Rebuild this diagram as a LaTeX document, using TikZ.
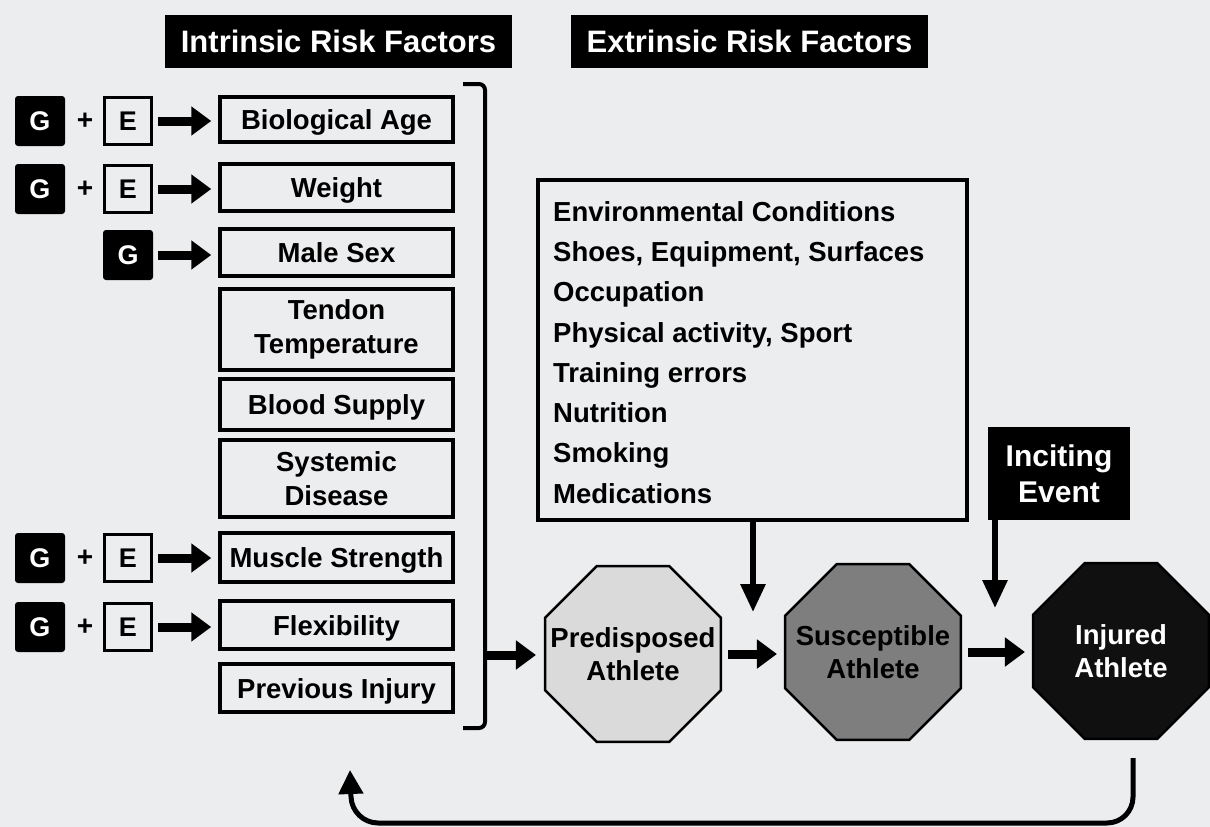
\documentclass[tikz,border=0pt]{standalone}
\usepackage{fontspec}
\setmainfont{Liberation Sans}
\usetikzlibrary{shapes.geometric,arrows.meta,calc}
\definecolor{paper}{RGB}{236,237,239}
\definecolor{predfill}{RGB}{218,218,218}
\definecolor{suscfill}{RGB}{126,126,126}
\definecolor{injfill}{RGB}{16,16,16}
\newcommand{\fsz}[2]{\fontsize{#1}{#2}\selectfont}
\begin{document}
\begin{tikzpicture}[x=1pt,y=-1pt,
  header/.style={fill=black, text=white, inner sep=0pt, minimum height=53pt,
    text height=22pt, text depth=0pt, font=\bfseries\fsz{31}{33}},
  factor/.style={draw, line width=3.5pt, fill=paper, minimum width=233pt,
    inner sep=0pt, align=center, font=\bfseries\fsz{27.5}{34}},
  oneline/.style={text height=20pt, text depth=0pt},
  gbox/.style={fill=black, rounded corners=3pt, minimum size=50pt, inner sep=0pt,
    text=white, text height=19pt, text depth=0pt, font=\bfseries\fsz{27}{28}},
  ebox/.style={draw, line width=3pt, minimum size=47pt, inner sep=0pt,
    text height=19pt, text depth=0pt, font=\bfseries\fsz{27}{28}},
  plus/.style={font=\bfseries\fsz{28}{30}, inner sep=0pt},
  fat/.style={line width=9pt, -{Triangle[length=20pt,width=28pt]}},
  drop/.style={line width=6pt, -{Triangle[length=28pt,width=24pt]}},
  octa/.style={regular polygon, regular polygon sides=8, minimum size=190pt,
    draw, line width=2.5pt, inner sep=0pt},
  octatext/.style={align=center, inner sep=0pt, font=\bfseries\fsz{27.5}{33}},
  darkbox/.style={fill=black, text=white, inner sep=0pt, align=center,
    font=\bfseries\fsz{30}{36}}
]
% background sheet and page frame
\fill[paper] (0,0) rectangle (1210,827);
\useasboundingbox (0,0) rectangle (1210,827);

% column headings
\node[header, minimum width=347pt] (hint) at (338.5,41.5) {Intrinsic Risk Factors};
\node[header, minimum width=357pt] (hext) at (749.5,41.5) {Extrinsic Risk Factors};

% intrinsic factors
\node[factor, oneline, minimum height=45pt] (bio)  at (336.5,119.5) {Biological Age};
\node[factor, oneline, minimum height=47pt] (wgt)  at (336.5,187.5) {Weight};
\node[factor, oneline, minimum height=47pt] (sex)  at (336.5,252.5) {Male Sex};
\node[factor, minimum height=81pt] (ten)  at (336.5,329.5) {Tendon\\Temperature};
\node[factor, oneline, minimum height=51pt] (bld)  at (336.5,404.5) {Blood Supply};
\node[factor, minimum height=77pt] (sys)  at (336.5,478.5) {Systemic\\Disease};
\node[factor, oneline, minimum height=49pt] (mus)  at (336.5,557.5) {Muscle Strength};
\node[factor, oneline, minimum height=48pt] (flx)  at (336.5,625)   {Flexibility};
\node[factor, oneline, minimum height=48pt] (prv)  at (336.5,688)   {Previous Injury};

% genetic / environmental origins
\node[gbox] (g1) at (40,121) {G};
\node[plus] (p1) at (85,121) {+};
\node[ebox] (e1) at (128,121) {E};
\node[gbox] (g2) at (40,189) {G};
\node[plus] (p2) at (85,189) {+};
\node[ebox] (e2) at (128,189) {E};
\node[gbox] (g3) at (128,255) {G};
\node[gbox] (g4) at (40,558) {G};
\node[plus] (p4) at (85,558) {+};
\node[ebox] (e4) at (128,558) {E};
\node[gbox] (g5) at (40,627) {G};
\node[plus] (p5) at (85,627) {+};
\node[ebox] (e5) at (128,627) {E};

\foreach \src/\dst in {e1/bio, e2/wgt, g3/sex, e4/mus, e5/flx}
  \draw[fat, shorten <=5pt, shorten >=7pt] (\src.east) -- (\src.east -| \dst.west);

% bracket gathering the intrinsic factors
\draw[line width=4pt, rounded corners=6pt] (463,84) -- (485,84) -- (485,728) -- (463,728);
\coordinate (brk) at (485,655);

% extrinsic factors
\node[draw, line width=3.5pt, fill=paper, minimum width=429pt, minimum height=340pt,
  inner sep=0pt] (ext) at (752.5,350) {};
\node[anchor=north west, inner sep=0pt, align=left, font=\bfseries\fsz{27.5}{40.3}]
  (extlist) at (553,201) {Environmental Conditions\\Shoes, Equipment, Surfaces\\Occupation\\
  Physical activity, Sport\\Training errors\\Nutrition\\Smoking\\Medications};

% inciting event
\node[darkbox, minimum width=142pt, minimum height=93pt] (inc) at (1059,473.5) {Inciting\\Event};

% athlete states
\node[octa, fill=predfill] (pred) at (633,654) {};
\node[octatext] (predtxt) at (pred.center) {Predisposed\\Athlete};
\node[octa, fill=suscfill] (susc) at (873,652) {};
\node[octatext] (susctxt) at (susc.center) {Susceptible\\Athlete};
\node[octa, fill=injfill] (inj) at (1121,651) {};
\node[octatext, text=white] (injtxt) at (inj.center) {Injured\\Athlete};

% flow between states
\draw[fat, shorten >=8pt] (brk) -- (brk -| pred.west);
\draw[fat, shorten <=6pt, shorten >=7pt] (pred.east) -- (pred.east -| susc.west);
\draw[fat, shorten <=6pt, shorten >=7pt] (susc.east) -- (susc.east -| inj.west);

% extrinsic factors and inciting event acting on the transitions
\coordinate (extin) at (753,612);
\coordinate (incin) at (995,608);
\draw[drop] (ext.south -| extin) -- (extin);
\draw[drop] (inc.south -| incin) -- (incin);

% feedback loop back to the intrinsic factors
\coordinate (fbstart) at (1133,758);
\coordinate (fbend) at (350,770);
\draw[line width=5pt, rounded corners=26pt, -{Triangle[length=24pt,width=24pt]}]
  (fbstart) -- (1133,823) -- (352,823) -- (fbend);
\end{tikzpicture}
\end{document}
